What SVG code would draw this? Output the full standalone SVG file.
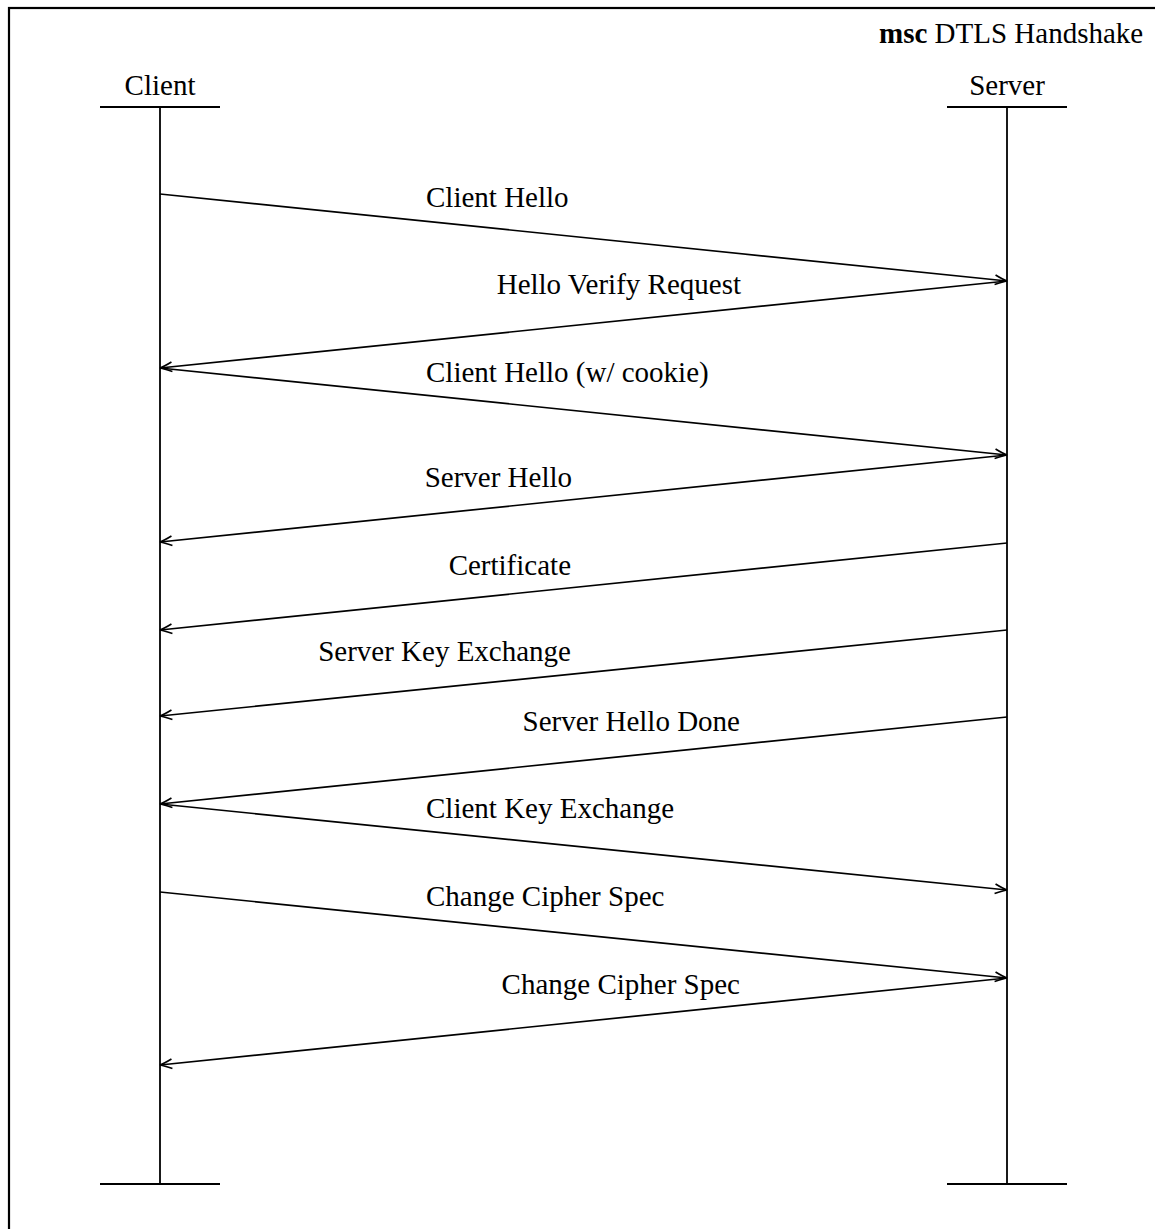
<svg xmlns="http://www.w3.org/2000/svg" width="1155" height="1229" viewBox="0 0 1155 1229">
  <style>
    .txt { font-family: "Liberation Serif", "Times New Roman", serif; font-size: 29px; fill: #000; }
    .bar { stroke: #000; stroke-width: 2.2; }
    .life { stroke: #000; stroke-width: 1.8; }
    .msg { stroke: #000; stroke-width: 1.7; fill: none; marker-end: url(#head); }
  </style>
  <defs>
    <marker id="head" markerUnits="userSpaceOnUse" markerWidth="16" markerHeight="12" viewBox="-13 -6 16 12" refX="0" refY="0" orient="auto">
      <path d="M -12,-4.8 Q -4,-1 0,0 Q -4,1 -12,4.8" fill="none" stroke="#000" stroke-width="1.7"/>
    </marker>
  </defs>
  <rect x="0" y="0" width="1155" height="1229" fill="#fff"/>

  <!-- frame -->
  <rect x="9" y="8" width="1200" height="1300" fill="none" stroke="#000" stroke-width="2.2"/>
  <text class="txt" x="879" y="43"><tspan font-weight="bold">msc</tspan> DTLS Handshake</text>

  <!-- instance: Client -->
  <g id="client">
    <text class="txt" x="160" y="95" text-anchor="middle">Client</text>
    <line class="bar" x1="100" y1="107" x2="220" y2="107"/>
    <line class="life" x1="160" y1="107" x2="160" y2="1184"/>
    <line class="bar" x1="100" y1="1184" x2="220" y2="1184"/>
  </g>

  <!-- instance: Server -->
  <g id="server">
    <text class="txt" x="1007" y="95" text-anchor="middle">Server</text>
    <line class="bar" x1="947" y1="107" x2="1067" y2="107"/>
    <line class="life" x1="1007" y1="107" x2="1007" y2="1184"/>
    <line class="bar" x1="947" y1="1184" x2="1067" y2="1184"/>
  </g>

  <!-- messages -->
  <g id="messages">
    <line class="msg" x1="160" y1="194" x2="1007" y2="281"/>
    <text class="txt" x="426" y="207">Client Hello</text>

    <line class="msg" x1="1007" y1="281" x2="160" y2="368"/>
    <text class="txt" x="741" y="294" text-anchor="end">Hello Verify Request</text>

    <line class="msg" x1="160" y1="368" x2="1007" y2="455"/>
    <text class="txt" x="426" y="382">Client Hello (w/ cookie)</text>

    <line class="msg" x1="1007" y1="455" x2="160" y2="542"/>
    <text class="txt" x="572" y="487" text-anchor="end">Server Hello</text>

    <line class="msg" x1="1007" y1="543" x2="160" y2="630"/>
    <text class="txt" x="571" y="575" text-anchor="end">Certificate</text>

    <line class="msg" x1="1007" y1="630" x2="160" y2="716"/>
    <text class="txt" x="571" y="661" text-anchor="end">Server Key Exchange</text>

    <line class="msg" x1="1007" y1="717" x2="160" y2="804"/>
    <text class="txt" x="740" y="731" text-anchor="end">Server Hello Done</text>

    <line class="msg" x1="160" y1="804" x2="1007" y2="890"/>
    <text class="txt" x="426" y="818">Client Key Exchange</text>

    <line class="msg" x1="160" y1="892" x2="1007" y2="978"/>
    <text class="txt" x="426" y="906">Change Cipher Spec</text>

    <line class="msg" x1="1007" y1="978" x2="160" y2="1065"/>
    <text class="txt" x="740" y="994" text-anchor="end">Change Cipher Spec</text>
  </g>
</svg>
